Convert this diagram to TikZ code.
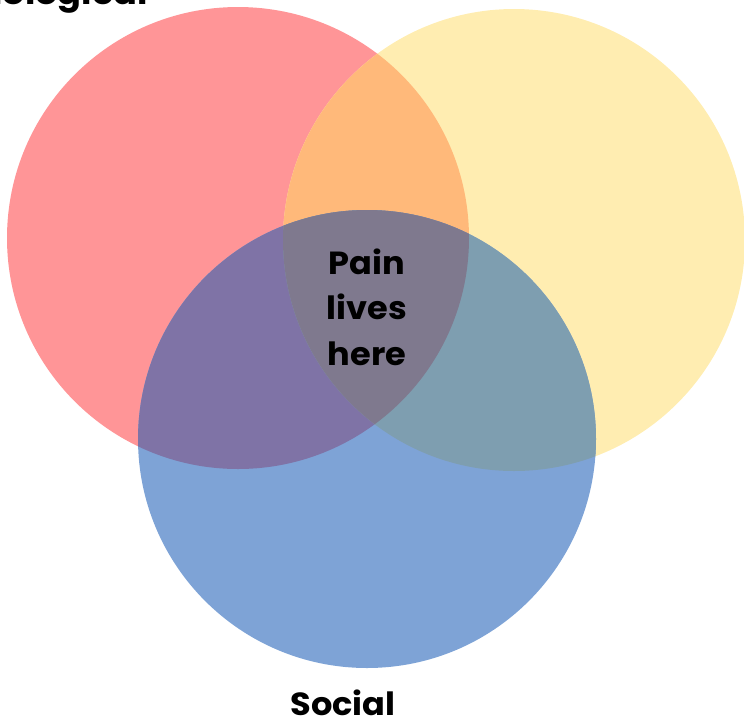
\documentclass[tikz,border=0pt]{standalone}
\usepackage{fontspec}
\setmainfont{Poppins}
\definecolor{redc}{HTML}{FF9597}
\definecolor{yelc}{HTML}{FFEDB1}
\definecolor{bluec}{HTML}{7EA3D6}
\definecolor{orangec}{HTML}{FFB97A}
\definecolor{purplec}{HTML}{7F73A6}
\definecolor{tealc}{HTML}{7E9EB0}
\definecolor{centerc}{HTML}{7F798E}
\tikzset{
  lbl/.style={font=\fontsize{32}{45.5}\selectfont\bfseries, text=black, inner sep=0pt}
}
\begin{document}
\begin{tikzpicture}[x=1pt,y=1pt]
\useasboundingbox (0,0) rectangle (744,-721);
\coordinate (R) at (238,-238);
\coordinate (Y) at (514,-240);
\coordinate (B) at (367,-439);
\def\rr{231pt}\def\ry{231pt}\def\rb{229pt}
\fill[redc] (R) circle[radius=\rr];
\fill[yelc] (Y) circle[radius=\ry];
\fill[bluec] (B) circle[radius=\rb];
\begin{scope}\clip (R) circle[radius=\rr]; \fill[orangec] (Y) circle[radius=\ry]; \end{scope}
\begin{scope}\clip (R) circle[radius=\rr]; \fill[purplec] (B) circle[radius=\rb]; \end{scope}
\begin{scope}\clip (Y) circle[radius=\ry]; \fill[tealc] (B) circle[radius=\rb]; \end{scope}
\begin{scope}\clip (R) circle[radius=\rr]; \clip (Y) circle[radius=\ry]; \fill[centerc] (B) circle[radius=\rb]; \end{scope}
\node[lbl, anchor=base east, xscale=1.1] (bio) at (148,-4) {Biological};
\node[lbl, anchor=base, xscale=1.05] (soc) at (343,-715) {Social};
\node[lbl, align=center, anchor=center, xscale=1.05] (pain) at (367,-307) {Pain\\lives\\here};
\end{tikzpicture}
\end{document}
